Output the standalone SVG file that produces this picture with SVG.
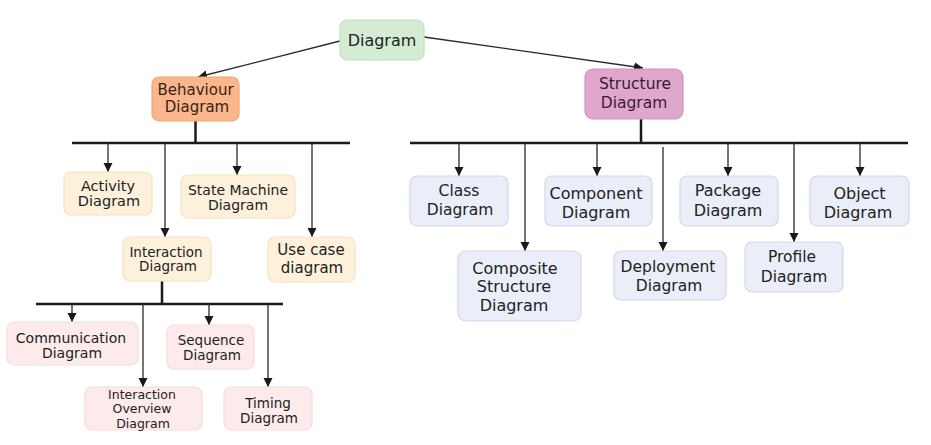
<svg xmlns="http://www.w3.org/2000/svg" width="931" height="445" viewBox="0 0 931 445">
<style>
text{font-family:"DejaVu Sans","Noto Sans",sans-serif;text-anchor:middle;dominant-baseline:central;fill:#222}
.n rect{stroke-width:1.2}
.root rect{fill:#d5ecd4;stroke:#bfe0bd}
.beh rect{fill:#f9b78b;stroke:#f3a678}
.beh text{fill:#3b2215}
.str rect{fill:#dfa7cc;stroke:#d196bf}
.str text{fill:#3a1b33}
.bc rect{fill:#fdf1dc;stroke:#f6e2c1}
.sc rect{fill:#e9eef8;stroke:#cfd8ea}
.ic rect{fill:#fdeaea;stroke:#f6dcdc}
.bar{stroke:#1a1a1a;stroke-width:2.5;fill:none}
.ar{stroke:#2a2a2a;stroke-width:1.3;fill:none;marker-end:url(#ah)}
</style>
<defs>
<marker id="ah" markerUnits="userSpaceOnUse" markerWidth="10" markerHeight="10" refX="9" refY="5" orient="auto">
<path d="M0,0.5 L9,5 L0,9.5 z" fill="#1a1a1a"/>
</marker>
</defs>
<rect width="931" height="445" fill="#ffffff"/>
<g id="connectors">
<line class="ar" x1="340" y1="41" x2="198" y2="77"/>
<line class="ar" x1="424" y1="37" x2="643" y2="68"/>
<line class="bar" x1="195.5" y1="121" x2="195.5" y2="143"/>
<line class="bar" x1="72" y1="143" x2="350" y2="143"/>
<line class="ar" x1="108" y1="143" x2="108" y2="172"/>
<line class="ar" x1="165" y1="143" x2="165" y2="237"/>
<line class="ar" x1="237" y1="143" x2="237" y2="175"/>
<line class="ar" x1="312" y1="143" x2="312" y2="237"/>
<line class="bar" x1="162" y1="281" x2="162" y2="304"/>
<line class="bar" x1="36" y1="304" x2="283" y2="304"/>
<line class="ar" x1="72" y1="304" x2="72" y2="322"/>
<line class="ar" x1="143" y1="304" x2="143" y2="387"/>
<line class="ar" x1="209" y1="304" x2="209" y2="325"/>
<line class="ar" x1="268" y1="304" x2="268" y2="387"/>
<line class="bar" x1="641" y1="119" x2="641" y2="143"/>
<line class="bar" x1="410" y1="143" x2="908" y2="143"/>
<line class="ar" x1="459" y1="143" x2="459" y2="176"/>
<line class="ar" x1="525" y1="143" x2="525" y2="251"/>
<line class="ar" x1="597" y1="143" x2="597" y2="176"/>
<line class="ar" x1="663" y1="147" x2="663" y2="251"/>
<line class="ar" x1="728" y1="143" x2="728" y2="176"/>
<line class="ar" x1="794" y1="143" x2="794" y2="242"/>
<line class="ar" x1="860" y1="143" x2="860" y2="176"/>
</g>
<g id="diagram" class="n root"><rect x="340" y="20" width="84" height="40" rx="7"/><text x="382" y="40" font-size="16">Diagram</text></g>
<g id="behaviour" class="n beh"><rect x="152" y="77" width="87" height="44" rx="7"/><text x="195.5" y="90" font-size="15">Behaviour</text><text x="197" y="107" font-size="15">Diagram</text></g>
<g id="structure" class="n str"><rect x="585" y="69" width="98" height="50" rx="8"/><text x="635" y="84" font-size="15.5">Structure</text><text x="634" y="103" font-size="15.5">Diagram</text></g>
<g id="activity" class="n bc"><rect x="64" y="172" width="88" height="43" rx="7"/><text x="108" y="186" font-size="14.5">Activity</text><text x="109" y="201" font-size="14.5">Diagram</text></g>
<g id="statemachine" class="n bc"><rect x="181" y="175" width="114" height="43" rx="7"/><text x="238" y="190" font-size="14">State Machine</text><text x="238" y="205" font-size="14">Diagram</text></g>
<g id="interaction" class="n bc"><rect x="123" y="237" width="88" height="44" rx="7"/><text x="166" y="251.5" font-size="13.5">Interaction</text><text x="168" y="266" font-size="13.5">Diagram</text></g>
<g id="usecase" class="n bc"><rect x="268" y="237" width="87" height="45" rx="7"/><text x="311" y="250" font-size="15">Use case</text><text x="312" y="267.5" font-size="15">diagram</text></g>
<g id="communication" class="n ic"><rect x="7" y="322" width="131" height="43" rx="7"/><text x="71" y="337.5" font-size="14">Communication</text><text x="72" y="352.5" font-size="14">Diagram</text></g>
<g id="overview" class="n ic"><rect x="85" y="387" width="117" height="43" rx="7"/><text x="142" y="394" font-size="12.5">Interaction</text><text x="142" y="408.6" font-size="12.5">Overview</text><text x="143" y="423.2" font-size="12.5">Diagram</text></g>
<g id="sequence" class="n ic"><rect x="167" y="325" width="87" height="44" rx="7"/><text x="211" y="340" font-size="13.5">Sequence</text><text x="212" y="354.5" font-size="13.5">Diagram</text></g>
<g id="timing" class="n ic"><rect x="224" y="387" width="88" height="43" rx="7"/><text x="268" y="403" font-size="13.5">Timing</text><text x="269" y="417.5" font-size="13.5">Diagram</text></g>
<g id="class" class="n sc"><rect x="410" y="176" width="98" height="50" rx="7"/><text x="459" y="190.5" font-size="15.5">Class</text><text x="460" y="209.5" font-size="15.5">Diagram</text></g>
<g id="composite" class="n sc"><rect x="458" y="251" width="123" height="70" rx="8"/><text x="515" y="268" font-size="16">Composite</text><text x="514" y="286.5" font-size="16">Structure</text><text x="514" y="305" font-size="16">Diagram</text></g>
<g id="component" class="n sc"><rect x="545" y="176" width="107" height="50" rx="7"/><text x="596" y="193" font-size="16">Component</text><text x="596" y="212" font-size="16">Diagram</text></g>
<g id="deployment" class="n sc"><rect x="614" y="251" width="112" height="49" rx="7"/><text x="668" y="267" font-size="15.5">Deployment</text><text x="669" y="286" font-size="15.5">Diagram</text></g>
<g id="package" class="n sc"><rect x="680" y="176" width="98" height="50" rx="7"/><text x="728" y="190.5" font-size="16">Package</text><text x="728" y="210" font-size="16">Diagram</text></g>
<g id="profile" class="n sc"><rect x="745" y="242" width="98" height="50" rx="7"/><text x="792" y="257" font-size="15.5">Profile</text><text x="794" y="277" font-size="15.5">Diagram</text></g>
<g id="object" class="n sc"><rect x="810" y="176" width="99" height="50" rx="7"/><text x="859.5" y="193" font-size="16">Object</text><text x="858" y="212" font-size="16">Diagram</text></g>
</svg>
